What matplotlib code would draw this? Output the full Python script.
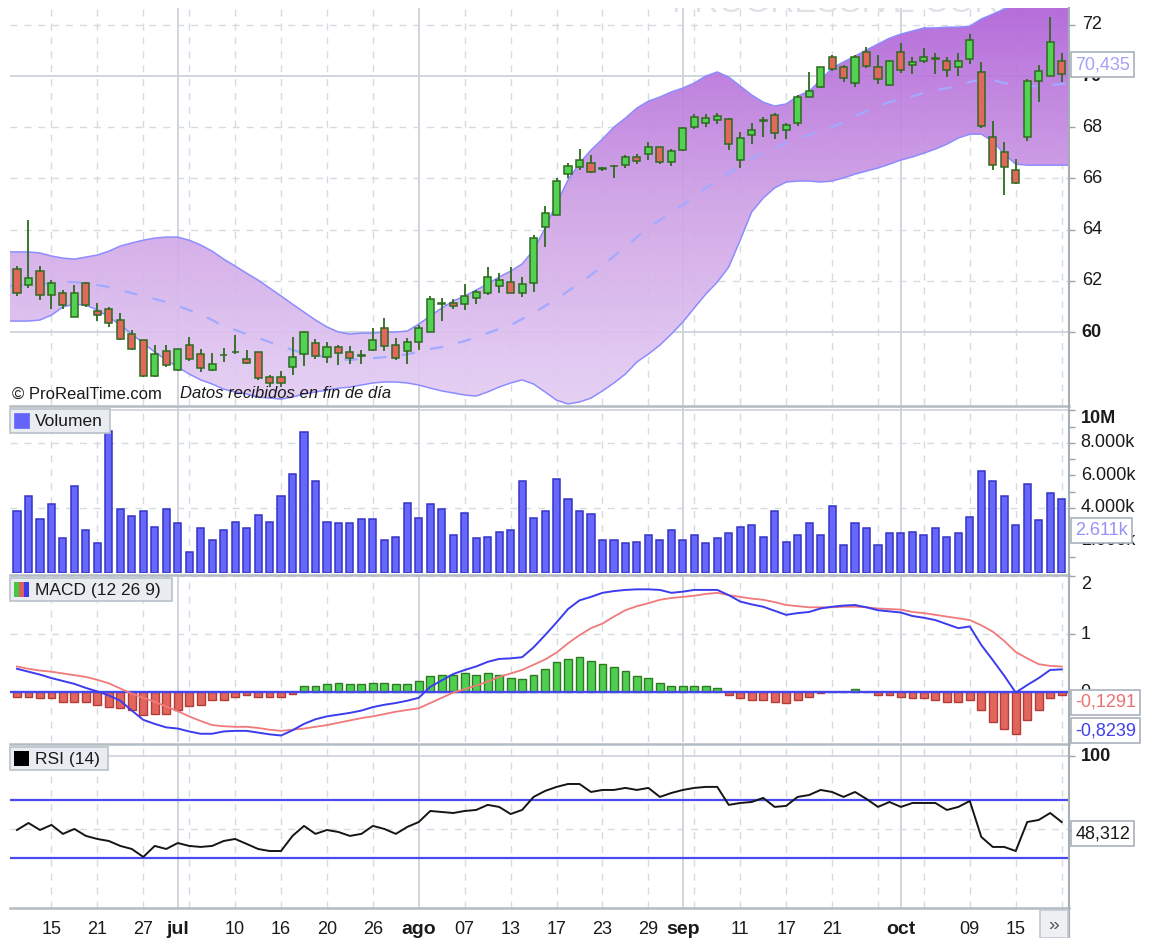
import numpy as np
import matplotlib
matplotlib.use("Agg")
import matplotlib.pyplot as plt
from matplotlib.patches import Rectangle
from matplotlib.lines import Line2D
from matplotlib.colors import LinearSegmentedColormap
from matplotlib.transforms import blended_transform_factory

plt.rcParams['font.family'] = ['Liberation Sans', 'DejaVu Sans']

# ------------------------------------------------------------------ data
opens = [62.45, 61.84, 62.38, 61.45, 61.51, 60.60, 61.93, 60.83, 60.92, 60.47,
         59.92, 59.69, 58.28, 59.27, 58.52, 59.48, 59.14, 58.52, 59.09, 59.24,
         58.96, 59.23, 58.23, 58.26, 58.65, 59.13, 59.56, 59.01, 59.43, 59.23,
         59.08, 59.30, 60.14, 59.49, 59.27, 59.62, 60.01, 61.10, 61.12, 61.09,
         61.34, 61.54, 61.80, 61.97, 61.51, 61.90, 64.11, 64.57, 66.17, 66.46,
         66.61, 66.38, 66.48, 66.52, 66.82, 66.95, 67.24, 66.65, 67.11, 68.02,
         68.18, 68.28, 68.31, 66.74, 67.70, 68.25, 68.48, 67.89, 68.18, 69.19,
         69.56, 70.73, 70.34, 69.74, 70.95, 70.34, 69.65, 70.95, 70.43, 70.60,
         70.68, 70.60, 70.34, 70.65, 70.17, 67.63, 67.04, 66.35, 67.63, 69.82,
         70.00, 70.60]
highs = [62.58, 64.38, 62.59, 62.03, 61.64, 61.84, 61.97, 61.12, 60.99, 60.73,
         60.08, 59.69, 59.48, 59.48, 59.35, 59.82, 59.32, 59.19, 59.36, 59.88,
         59.30, 59.23, 58.33, 58.49, 59.82, 60.05, 59.71, 59.62, 59.49, 59.45,
         59.30, 60.14, 60.53, 59.75, 59.75, 60.27, 61.41, 61.34, 61.28, 61.88,
         61.64, 62.55, 62.29, 62.55, 62.14, 63.79, 64.92, 66.00, 66.59, 67.17,
         66.91, 66.46, 66.52, 66.91, 66.95, 67.43, 67.24, 67.17, 68.02, 68.52,
         68.52, 68.57, 68.35, 67.83, 68.15, 68.41, 68.54, 68.15, 69.28, 70.17,
         70.37, 70.82, 70.43, 70.82, 71.15, 70.82, 70.63, 71.30, 70.73, 71.08,
         70.89, 70.73, 70.89, 71.64, 70.56, 68.26, 67.43, 66.78, 69.87, 70.43,
         72.29, 70.91]
lows = [61.41, 61.71, 61.25, 60.92, 60.92, 60.60, 60.99, 60.44, 60.21, 59.69,
        59.30, 58.26, 58.26, 58.65, 58.49, 58.85, 58.45, 58.49, 58.84, 59.14,
        58.75, 58.12, 57.86, 57.86, 58.32, 58.67, 58.93, 58.78, 58.71, 58.75,
        58.75, 59.27, 59.27, 58.91, 58.75, 59.30, 60.01, 60.44, 60.89, 60.86,
        61.09, 61.45, 61.54, 61.51, 61.38, 61.58, 63.31, 64.57, 66.00, 66.33,
        66.20, 66.30, 66.00, 66.39, 66.56, 66.74, 66.56, 66.48, 67.08, 67.92,
        68.02, 68.13, 67.13, 66.39, 67.34, 67.61, 67.56, 67.56, 68.05, 69.19,
        69.52, 70.21, 69.78, 69.58, 70.30, 69.71, 69.61, 70.13, 70.08, 70.50,
        70.08, 69.97, 70.00, 70.47, 67.96, 66.33, 65.35, 65.80, 67.47, 68.97,
        70.00, 69.78]
closes = [61.54, 62.12, 61.45, 61.90, 61.05, 61.51, 61.05, 60.66, 60.34, 59.71,
          59.35, 58.28, 59.13, 58.70, 59.35, 58.93, 58.58, 58.74, 59.11, 59.22,
          58.78, 58.19, 58.02, 58.02, 59.01, 60.01, 59.06, 59.40, 59.17, 58.97,
          59.09, 59.69, 59.47, 58.97, 59.62, 60.14, 61.28, 61.13, 61.02, 61.41,
          61.55, 62.14, 62.04, 61.51, 61.86, 63.66, 64.66, 65.91, 66.50, 66.74,
          66.26, 66.40, 66.47, 66.85, 66.69, 67.24, 66.65, 67.08, 67.96, 68.39,
          68.35, 68.44, 67.34, 67.57, 67.89, 68.26, 67.76, 68.09, 69.19, 69.43,
          70.34, 70.26, 69.91, 70.73, 70.39, 69.87, 70.60, 70.23, 70.56, 70.73,
          70.70, 70.23, 70.60, 71.41, 68.05, 66.52, 66.43, 65.83, 69.82, 70.21,
          71.34, 70.08]

bb_upper = [63.13, 63.13, 63.09, 62.97, 62.89, 62.85, 62.93, 63.01, 63.16, 63.36,
            63.48, 63.59, 63.67, 63.71, 63.71, 63.59, 63.40, 63.16, 62.85, 62.58,
            62.30, 62.03, 61.72, 61.41, 61.09, 60.78, 60.47, 60.20, 60.00, 59.92,
            59.96, 59.96, 60.00, 60.00, 60.04, 60.31, 60.63, 60.94, 61.21, 61.41,
            61.64, 61.88, 62.15, 62.38, 62.66, 63.20, 64.06, 65.04, 65.94, 66.60,
            67.11, 67.54, 68.01, 68.36, 68.75, 69.02, 69.18, 69.38, 69.53, 69.73,
            70.00, 70.16, 69.96, 69.61, 69.26, 68.98, 68.83, 68.91, 69.22, 69.41,
            69.84, 70.31, 70.55, 70.78, 71.02, 71.25, 71.48, 71.64, 71.76, 71.88,
            71.88, 71.91, 71.91, 71.95, 72.23, 72.42, 72.62, 72.81, 72.97, 73.09,
            73.16, 73.20]
bb_lower = [60.43, 60.43, 60.47, 60.66, 60.98, 61.09, 61.05, 60.86, 60.59, 60.27,
            59.92, 59.57, 59.22, 58.91, 58.63, 58.36, 58.13, 57.97, 57.77, 57.66,
            57.58, 57.46, 57.42, 57.38, 57.46, 57.58, 57.66, 57.73, 57.81, 57.85,
            57.93, 58.01, 58.05, 58.05, 58.01, 57.93, 57.81, 57.70, 57.62, 57.54,
            57.50, 57.66, 57.85, 58.01, 58.13, 57.97, 57.66, 57.34, 57.19, 57.27,
            57.42, 57.70, 58.01, 58.36, 58.83, 59.14, 59.49, 59.92, 60.39, 60.94,
            61.48, 61.95, 62.54, 63.59, 64.69, 65.23, 65.63, 65.86, 65.90, 65.90,
            65.86, 65.90, 66.02, 66.17, 66.29, 66.41, 66.56, 66.72, 66.84, 66.99,
            67.15, 67.34, 67.58, 67.73, 67.73, 67.46, 66.95, 66.56, 66.52, 66.52,
            66.52, 66.52]
bb_mid = [61.80, 61.84, 61.88, 61.91, 61.95, 61.95, 61.91, 61.84, 61.76, 61.64,
          61.52, 61.41, 61.29, 61.17, 61.02, 60.86, 60.70, 60.47, 60.23, 60.08,
          59.92, 59.77, 59.61, 59.45, 59.30, 59.18, 59.10, 59.02, 58.95, 58.91,
          58.95, 58.98, 59.02, 59.06, 59.14, 59.22, 59.34, 59.41, 59.53, 59.65,
          59.80, 59.96, 60.12, 60.27, 60.51, 60.74, 61.02, 61.29, 61.60, 61.91,
          62.23, 62.58, 62.97, 63.32, 63.71, 64.06, 64.38, 64.69, 64.96, 65.27,
          65.63, 65.94, 66.21, 66.48, 66.76, 67.03, 67.19, 67.38, 67.54, 67.70,
          67.85, 68.01, 68.20, 68.44, 68.63, 68.83, 68.98, 69.10, 69.22, 69.34,
          69.45, 69.53, 69.61, 69.77, 69.88, 69.84, 69.73, 69.65, 69.61, 69.61,
          69.65, 69.69]

volume_k = [3813, 4736, 3303, 4225, 2134, 5351, 2645, 1827, 8750, 3918,
            3506, 3813, 2848, 3918, 3057, 1310, 2749, 2030, 2645, 3155,
            2749, 3567, 3155, 4736, 6089, 8690, 5676, 3155, 3057, 3057,
            3303, 3303, 2030, 2232, 4324, 3401, 4225, 3918, 2337, 3708,
            2134, 2232, 2540, 2645, 5676, 3401, 3813, 5781, 4533, 3813,
            3610, 2030, 2030, 1827, 1925, 2337, 2030, 2645, 2030, 2337,
            1827, 2134, 2442, 2848, 2952, 2232, 3813, 1925, 2337, 3057,
            2337, 4121, 1722, 3057, 2749, 1722, 2442, 2442, 2540, 2337,
            2749, 2232, 2442, 3463, 6291, 5676, 4736, 2952, 5455, 3260,
            4938, 4533]

macd_line = [0.40, 0.35, 0.30, 0.24, 0.19, 0.14, 0.07, 0.01, -0.06, -0.15,
             -0.32, -0.48, -0.55, -0.61, -0.63, -0.68, -0.72, -0.72, -0.68, -0.67,
             -0.67, -0.70, -0.73, -0.75, -0.66, -0.55, -0.47, -0.42, -0.39, -0.36,
             -0.32, -0.26, -0.22, -0.19, -0.15, -0.10, 0.09, 0.20, 0.31, 0.38,
             0.44, 0.52, 0.57, 0.58, 0.60, 0.77, 0.98, 1.20, 1.43, 1.58,
             1.64, 1.71, 1.74, 1.76, 1.77, 1.77, 1.76, 1.71, 1.73, 1.76,
             1.76, 1.76, 1.67, 1.56, 1.51, 1.47, 1.40, 1.33, 1.36, 1.38,
             1.44, 1.47, 1.49, 1.50, 1.46, 1.41, 1.39, 1.37, 1.31, 1.28,
             1.24, 1.17, 1.10, 1.13, 0.81, 0.55, 0.28, -0.01, 0.12, 0.24,
             0.38, 0.39]
macd_signal = [0.44, 0.40, 0.37, 0.35, 0.32, 0.29, 0.26, 0.21, 0.15, 0.06,
               -0.03, -0.10, -0.17, -0.25, -0.33, -0.42, -0.50, -0.57, -0.59, -0.60,
               -0.60, -0.62, -0.65, -0.67, -0.65, -0.63, -0.60, -0.57, -0.53, -0.49,
               -0.45, -0.42, -0.38, -0.34, -0.31, -0.28, -0.19, -0.10, -0.01, 0.05,
               0.11, 0.18, 0.26, 0.32, 0.38, 0.47, 0.56, 0.68, 0.84, 0.98,
               1.10, 1.18, 1.30, 1.41, 1.48, 1.53, 1.59, 1.62, 1.64, 1.66,
               1.69, 1.71, 1.67, 1.64, 1.61, 1.59, 1.55, 1.50, 1.48, 1.46,
               1.46, 1.46, 1.47, 1.47, 1.46, 1.44, 1.43, 1.42, 1.38, 1.36,
               1.33, 1.30, 1.27, 1.24, 1.15, 1.04, 0.88, 0.69, 0.58, 0.48,
               0.45, 0.44]
macd_hist = [-0.08, -0.08, -0.11, -0.11, -0.17, -0.17, -0.17, -0.22, -0.25, -0.28,
             -0.31, -0.40, -0.38, -0.38, -0.31, -0.24, -0.22, -0.14, -0.14, -0.08,
             -0.05, -0.08, -0.08, -0.08, -0.03, 0.10, 0.10, 0.13, 0.16, 0.13,
             0.13, 0.16, 0.16, 0.13, 0.13, 0.19, 0.28, 0.30, 0.30, 0.32,
             0.30, 0.33, 0.30, 0.25, 0.22, 0.30, 0.39, 0.51, 0.57, 0.60,
             0.54, 0.48, 0.43, 0.37, 0.28, 0.25, 0.16, 0.10, 0.10, 0.10,
             0.10, 0.07, -0.05, -0.11, -0.14, -0.14, -0.17, -0.19, -0.14, -0.08,
             -0.02, 0.0, 0.0, 0.05, 0.0, -0.05, -0.05, -0.08, -0.11, -0.11,
             -0.14, -0.17, -0.17, -0.14, -0.31, -0.51, -0.64, -0.72, -0.49, -0.31,
             -0.11, -0.05]

rsi = [49.3, 54.1, 49.3, 52.8, 46.6, 50.0, 45.2, 43.1, 41.7, 38.3,
       36.2, 30.7, 38.3, 36.2, 40.3, 38.3, 37.6, 38.3, 41.7, 43.1,
       39.7, 36.2, 34.8, 34.8, 45.2, 52.1, 46.6, 49.3, 47.9, 45.2,
       46.6, 52.1, 50.0, 46.6, 51.4, 54.8, 62.4, 61.7, 61.0, 62.4,
       63.1, 66.6, 65.2, 60.3, 63.1, 72.1, 76.2, 79.0, 81.0, 81.0,
       75.5, 76.9, 76.9, 78.3, 76.9, 78.3, 72.1, 74.8, 76.9, 78.3,
       79.0, 79.0, 66.6, 67.9, 68.6, 71.4, 65.2, 65.9, 72.1, 73.4,
       76.9, 75.5, 72.1, 75.5, 70.7, 65.2, 68.6, 65.2, 67.9, 67.9,
       67.9, 63.1, 65.2, 69.3, 44.5, 37.6, 37.6, 34.8, 54.8, 56.2,
       61.0, 54.8]

date_pos = [3, 7, 11, 14, 19, 23, 27, 31, 35, 39, 43, 47, 51, 55, 58, 63, 67, 71, 77, 83, 87]
date_labels = ['15', '21', '27', 'jul', '10', '16', '20', '26', 'ago', '07', '13', '17',
               '23', '29', 'sep', '11', '17', '21', 'oct', '09', '15']
month_names = ['jul', 'ago', 'sep', 'oct']
month_pos = [14, 35, 58, 77]
grid_pos = list(range(3, 92, 4))

price_ticks = [72, 70, 68, 66, 64, 62, 60]
vol_ticks = [10000, 8000, 6000, 4000, 2000]
vol_tick_labels = ['10M', '8.000k', '6.000k', '4.000k', '2.000k']
macd_ticks = [2, 1, 0]
rsi_levels = [70, 30]

last_price_label = 70.435
last_vol_label = 2611
macd_label_1 = -0.1291
macd_label_2 = -0.8239
rsi_label = 48.312

# ------------------------------------------------------------------ layout
W, H = 1150, 938
fig = plt.figure(figsize=(W / 100, H / 100), dpi=100)
fig.patch.set_facecolor('white')


def ax_at(left, top, right, bottom):
    return fig.add_axes([left / W, 1 - bottom / H, (right - left) / W, (bottom - top) / H])


def px_rect(x0, y0, x1, y1, **kw):
    r = Rectangle((x0 / W, 1 - y1 / H), (x1 - x0) / W, (y1 - y0) / H,
                  transform=fig.transFigure, **kw)
    fig.add_artist(r)
    return r


def px_line(xs, ys, **kw):
    fig.add_artist(Line2D([x / W for x in xs], [1 - y / H for y in ys],
                          transform=fig.transFigure, **kw))


ax_p = ax_at(10, 8, 1069, 405)
ax_v = ax_at(10, 407, 1069, 573)
ax_m = ax_at(10, 576, 1069, 742)
ax_r = ax_at(10, 746, 1069, 908)
axes = [ax_p, ax_v, ax_m, ax_r]

idx = np.arange(len(closes))
XL = (-0.61, 91.64)

GRID_SOLID = '#cdd1da'
GRID_DASH = '#d6dae1'
TICK_COL = '#9aa2aa'
LBL_FS = 13

for ax in axes:
    ax.set_facecolor('white')
    for s in ax.spines.values():
        s.set_visible(False)
    ax.set_xlim(*XL)
    ax.set_xticks([])
    for gp in grid_pos:
        if gp in month_pos:
            continue
        ax.axvline(gp, color=GRID_DASH, lw=1, ls=(0, (5, 5)), zorder=0.5)
    for mp in month_pos:
        ax.axvline(mp, color=GRID_SOLID, lw=1.3, zorder=0.5)
    ax.tick_params(axis='y', which='both', left=False, right=True, labelleft=False,
                   labelright=False, direction='out', length=4, color=TICK_COL, width=1)

ytr = lambda ax: blended_transform_factory(ax.transAxes, ax.transData)

# ------------------------------------------------------------------ price panel
ax_p.set_ylim(57.15, 72.66)
for v in price_ticks:
    if v % 10 == 0:
        ax_p.axhline(v, color=GRID_SOLID, lw=1.3, zorder=0.5)
    else:
        ax_p.axhline(v, color=GRID_DASH, lw=1, ls=(0, (5, 5)), zorder=0.5)
ax_p.set_yticks(price_ticks)
for v in price_ticks:
    ax_p.text(1.012, v, str(v), transform=ytr(ax_p), ha='left', va='center',
              fontsize=LBL_FS, fontweight='bold' if v % 10 == 0 else 'normal',
              color='#1a1a1a', clip_on=False, zorder=5)

# watermark
ax_p.text(0.625, 1.012, 'PROGRESSIVE CORP', transform=ax_p.transAxes, fontsize=24,
          color='#dfe1e6', ha='left', va='center', zorder=1, clip_on=True)

# Bollinger band gradient fill
xb = np.r_[XL[0], idx, XL[1]]
upb = np.r_[bb_upper[0], bb_upper, bb_upper[-1]]
lob = np.r_[bb_lower[0], bb_lower, bb_lower[-1]]
midb = np.r_[bb_mid[0], bb_mid, bb_mid[-1]]
poly = ax_p.fill_between(xb, lob, upb, facecolor='none', edgecolor='none', zorder=1.4)
cmap = LinearSegmentedColormap.from_list('bb', ['#e4cff3', '#cfa3e6', '#b163d8'])
grad = np.linspace(0, 1, 256).reshape(-1, 1)
im = ax_p.imshow(grad, extent=[XL[0], XL[1], 57.15, 72.66], origin='lower',
                 aspect='auto', cmap=cmap, zorder=1.5, alpha=0.93, interpolation='bilinear')
im.set_clip_path(poly.get_paths()[0], transform=ax_p.transData)
ax_p.plot(xb, upb, color='#8c8cff', lw=1.1, zorder=2)
ax_p.plot(xb, lob, color='#8c8cff', lw=1.1, zorder=2)
ax_p.plot(xb, midb, color='#a2aaff', lw=1.6, ls=(0, (6, 7)), zorder=2)
ax_p.set_xlim(*XL)
ax_p.set_ylim(57.15, 72.66)

# candles
o = np.array(opens); c = np.array(closes); h = np.array(highs); l = np.array(lows)
up = c >= o
body_col = np.where(up, '#52d152', '#e2675c')
ax_p.vlines(idx, l, h, color='#2e6a20', lw=1.3, zorder=3)
ax_p.bar(idx, np.maximum(np.abs(c - o), 0.02), bottom=np.minimum(o, c), width=0.62,
         color=body_col, edgecolor='#2e6a20', linewidth=1.1, zorder=4)

# copyright
ax_p.text(0.002, 0.028, '© ProRealTime.com', transform=ax_p.transAxes, fontsize=12,
          color='#1a1a1a', ha='left', va='center', zorder=6)
ax_p.text(0.161, 0.028, 'Datos recibidos en fin de día', transform=ax_p.transAxes,
          fontsize=12, style='italic', color='#1a1a1a', ha='left', va='center', zorder=6)

# last price box
ax_p.text(1.006, last_price_label, '70,435', transform=ytr(ax_p), ha='left', va='center',
          fontsize=LBL_FS, color='#a3a3f5', clip_on=False, zorder=7,
          bbox=dict(boxstyle='square,pad=0.22', fc='white', ec='#aab2ba', lw=1.2))

# ------------------------------------------------------------------ volume panel
ax_v.set_ylim(0, 10215)
ax_v.axhline(10000, color=GRID_SOLID, lw=1.2, zorder=0.5)
for v in (8000, 4000):
    ax_v.axhline(v, color=GRID_DASH, lw=1, ls=(0, (5, 5)), zorder=0.5)
ax_v.bar(idx, volume_k, width=0.62, color='#6767fb', edgecolor='#3434c8', linewidth=1.1, zorder=3)
ax_v.set_yticks(vol_ticks)
ax_v.set_yticks([1000, 3000, 5000, 7000, 9000], minor=True)
for v, t in zip(vol_ticks, vol_tick_labels):
    ax_v.text(1.011, v, t, transform=ytr(ax_v), ha='left',
              va='top' if v == 10000 else 'center', fontsize=LBL_FS,
              fontweight='bold' if v == 10000 else 'normal', color='#1a1a1a', clip_on=False)
ax_v.text(1.006, last_vol_label, '2.611k', transform=ytr(ax_v), ha='left', va='center',
          fontsize=LBL_FS, color='#9494f8', clip_on=False, zorder=7,
          bbox=dict(boxstyle='square,pad=0.22', fc='white', ec='#aab2ba', lw=1.2))

# ------------------------------------------------------------------ MACD panel
ax_m.set_ylim(-0.862, 2.0)
for v in (1, 2):
    ax_m.axhline(v, color=GRID_DASH, lw=1, ls=(0, (5, 5)), zorder=0.5)
hist = np.array(macd_hist)
hcol = np.where(hist >= 0, '#4fcf4f', '#e2665e')
hedge = np.where(hist >= 0, '#2e7a22', '#b23c36')
ax_m.bar(idx, hist, width=0.68, color=hcol, edgecolor=hedge, linewidth=1.0, zorder=2)
ax_m.axhline(0, color='#4646ee', lw=1.7, zorder=3)
ax_m.plot(idx, macd_signal, color='#f07a7a', lw=1.3, zorder=4)
ax_m.plot(idx, macd_line, color='#3c3cef', lw=1.4, zorder=5)
ax_m.set_yticks(macd_ticks)
for v in macd_ticks:
    ax_m.text(1.011, v, str(v), transform=ytr(ax_m), ha='left',
              va='top' if v == 2 else 'center', fontsize=LBL_FS, color='#1a1a1a', clip_on=False)
ax_m.plot([1.0, 1.006], [macd_label_1, macd_label_1], transform=ytr(ax_m), color='#e57373',
          lw=1.2, clip_on=False)
ax_m.plot([1.0, 1.006], [-0.69, -0.69], transform=ytr(ax_m), color='#e57373',
          lw=1.2, clip_on=False)
ax_m.plot([1.0, 1.006], [macd_label_2, macd_label_2], transform=ytr(ax_m), color='#4444ee',
          lw=1.2, clip_on=False)
ax_m.text(1.006, macd_label_1 - 0.05, '-0,1291', transform=ytr(ax_m), ha='left', va='center',
          fontsize=LBL_FS, color='#e87272', clip_on=False, zorder=7,
          bbox=dict(boxstyle='square,pad=0.22', fc='white', ec='#aab2ba', lw=1.2))
ax_m.text(1.006, macd_label_2 + 0.16, '-0,8239', transform=ytr(ax_m), ha='left', va='center',
          fontsize=LBL_FS, color='#4040e8', clip_on=False, zorder=7,
          bbox=dict(boxstyle='square,pad=0.22', fc='white', ec='#aab2ba', lw=1.2))

# ------------------------------------------------------------------ RSI panel
ax_r.set_ylim(-4.5, 107.2)
ax_r.axhline(100, color=GRID_SOLID, lw=1.2, zorder=0.5)
ax_r.axhline(50, color=GRID_DASH, lw=1, ls=(0, (5, 5)), zorder=0.5)
for lv in rsi_levels:
    ax_r.axhline(lv, color='#4a4af5', lw=1.6, zorder=2)
ax_r.plot(idx, rsi, color='#151515', lw=1.4, zorder=3)
ax_r.set_yticks([100])
ax_r.text(1.011, 100, '100', transform=ytr(ax_r), ha='left', va='center', fontsize=LBL_FS,
          fontweight='bold', color='#1a1a1a', clip_on=False)
ax_r.plot([1.0, 1.006], [rsi_label, rsi_label], transform=ytr(ax_r), color='#333333',
          lw=1.2, clip_on=False)
ax_r.text(1.006, rsi_label - 1.5, '48,312', transform=ytr(ax_r), ha='left', va='center',
          fontsize=LBL_FS, color='#1a1a1a', clip_on=False, zorder=7,
          bbox=dict(boxstyle='square,pad=0.22', fc='white', ec='#aab2ba', lw=1.2))

ax_r.set_xticks(date_pos)
ax_r.set_xticklabels(date_labels)
ax_r.tick_params(axis='x', length=0, pad=9, labelsize=LBL_FS, colors='#1a1a1a')
for t in ax_r.get_xticklabels():
    if t.get_text() in month_names:
        t.set_fontweight('bold')
        t.set_fontsize(14)

# ------------------------------------------------------------------ frame & overlays
SEP = '#b3bbc3'
for yy in (406, 574.5, 744, 908):
    px_line([10, 1069], [yy, yy], color=SEP, lw=1.8, zorder=2)
px_line([1069, 1069], [8, 938], color='#a5adb5', lw=1.5, zorder=2)

# legend boxes
BOX_FC = '#e9edf1'
BOX_EC = '#b9c1c9'
px_rect(10, 409, 110, 433, facecolor=BOX_FC, edgecolor=BOX_EC, lw=1.2, zorder=5)
px_rect(14, 413, 29, 428, facecolor='#6464fa', edgecolor='#6464fa', lw=0.5, zorder=6)
fig.text(35 / W, 1 - 421.5 / H, 'Volumen', fontsize=12.5, color='#1a1a1a', va='center', zorder=7)

px_rect(10, 578, 172, 601, facecolor=BOX_FC, edgecolor=BOX_EC, lw=1.2, zorder=5)
px_rect(14, 582, 19, 597, facecolor='#44c844', edgecolor='none', zorder=6)
px_rect(19, 582, 24, 597, facecolor='#e06060', edgecolor='none', zorder=6)
px_rect(24, 582, 29, 597, facecolor='#3c3ce8', edgecolor='none', zorder=6)
fig.text(35 / W, 1 - 590 / H, 'MACD (12 26 9)', fontsize=12.5, color='#1a1a1a', va='center', zorder=7)

px_rect(10, 747, 108, 770, facecolor=BOX_FC, edgecolor=BOX_EC, lw=1.2, zorder=5)
px_rect(14, 751, 29, 766, facecolor='#000000', edgecolor='none', zorder=6)
fig.text(35 / W, 1 - 759 / H, 'RSI (14)', fontsize=12.5, color='#1a1a1a', va='center', zorder=7)

# scroll button
px_rect(1040, 910, 1068, 938, facecolor='#eef0f3', edgecolor='#c3c9cf', lw=1.2, zorder=5)
fig.text(1054 / W, 1 - 925 / H, '»', fontsize=14, color='#555555', ha='center', va='center', zorder=7)

fig.savefig('out.png', dpi=100, facecolor='white')
